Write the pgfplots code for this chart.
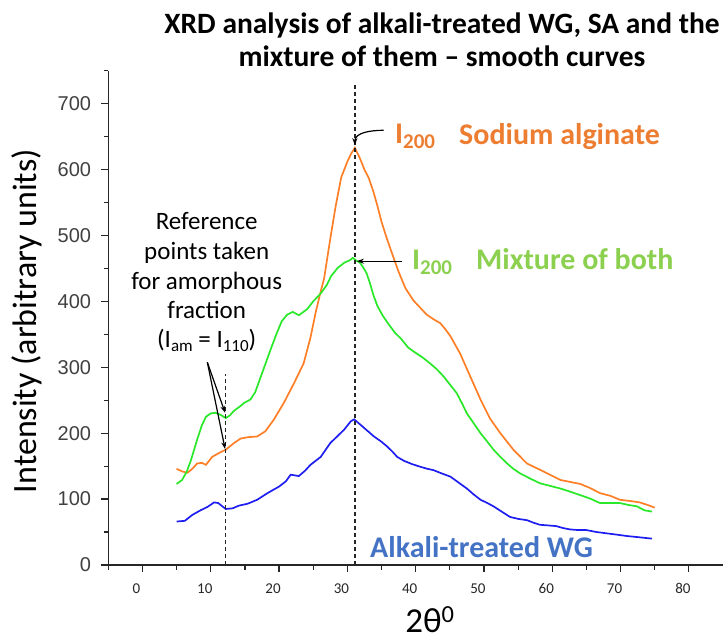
\documentclass[border=0pt]{standalone}
\usepackage{pgfplots}
\pgfplotsset{compat=1.18}
\usepackage{fontspec}
\setmainfont{Carlito}
\newfontfamily\arialf{Liberation Sans}
\definecolor{corange}{RGB}{255,127,39}
\definecolor{cgreen}{RGB}{40,232,40}
\definecolor{cblue}{RGB}{30,30,240}
\definecolor{torange}{RGB}{237,125,49}
\definecolor{tgreen}{RGB}{140,208,80}
\definecolor{tblue}{RGB}{68,114,196}
\usetikzlibrary{arrows.meta}
\begin{document}
\begin{tikzpicture}
\path[use as bounding box] (-108.3pt,-78pt) rectangle (616.7pt,565pt);
\begin{axis}[
  at={(0pt,0pt)}, anchor=south west,
  scale only axis, width=614.7pt, height=494.3pt,
  xmin=-5, xmax=85, ymin=0, ymax=750,
  axis x line*=bottom, axis y line*=left,
  axis line style={line width=1.2pt, black!85, -},
  tick align=outside,
  xtick={0,10,...,80}, minor xtick={-5,5,...,75},
  ytick={0,100,...,700}, minor ytick={50,150,...,750},
  major tick length=7pt, minor tick length=4.5pt,
  every tick/.style={line width=1.2pt, black!85},
  /pgf/number format/assume math mode=true,
  xticklabel style={font=\fontsize{15}{16}\selectfont, xshift=-6pt, yshift=-8pt, color=black!85},
  yticklabel style={font=\arialf\fontsize{20}{22}\selectfont, color=black!75, anchor=east, inner sep=0pt, xshift=-10pt},
  clip=false,
]
\addplot[corange, line width=1.7pt] coordinates {
(5,146) (5.8,142) (6.6,140) (7.3,146) (8,154) (8.7,155) (9.3,152) (10.2,164)
(11.4,171) (12.2,175) (13.4,185) (14.4,192) (15.5,194) (16.8,195) (18,203)
(19.2,220) (20.7,246) (22.2,276) (23.6,306) (24.6,345) (25.4,385) (26.1,415)
(26.6,435) (27.5,495) (28.3,545) (29.1,588) (30,612) (30.6,625) (31.1,633)
(31.8,618) (32.5,600) (33.1,588) (33.8,567) (34.4,545) (35,521) (35.7,498)
(36.5,474) (37.5,445) (38.5,420) (39.7,401) (40.7,390) (41.6,380) (42.6,373)
(43.6,367) (44.4,357) (45.1,347) (46.5,321) (48,286) (49.5,251) (50.9,222)
(52.4,200) (54.3,175) (56.3,154) (58.7,142) (61.2,129) (64.1,123) (65.5,117)
(67,109) (68.5,105) (69.9,99) (71.5,97) (72.8,95) (74,91) (75,87)
};
\addplot[cgreen, line width=1.7pt] coordinates {
(5,123) (5.8,129) (6.5,142) (7.1,159) (8,190) (8.7,212) (9.3,225) (10,230)
(10.7,231) (11.4,228) (12.2,223) (12.8,227) (13.4,234) (14.2,240) (14.9,246)
(15.8,251) (16.5,262) (17.3,285) (18,305) (18.8,328) (19.6,350) (20.4,370)
(21.2,380) (22,384) (22.9,379) (24.1,388) (25,400) (26.1,412) (27,425)
(27.6,438) (28.6,451) (29.6,459) (30.3,462) (30.8,466) (31.3,462) (31.8,459)
(32.3,452) (32.8,443) (33.3,428) (33.8,410) (34.4,393) (35.2,378) (36,366)
(37,352) (37.8,344) (38.9,330) (39.7,324) (41,315) (42.1,306) (43.1,297)
(44.1,286) (45,274) (46,261) (46.8,245) (47.5,230) (48.5,215) (49.5,200)
(50.5,187) (51.4,175) (52.4,164) (53.4,154) (54.3,146) (55.3,139) (56.8,131)
(58.2,124) (59.7,120) (61.2,116) (62.7,111) (64.1,106) (65.5,101) (67,94)
(68.5,94) (69.9,94) (71.2,91) (72.4,89) (73.5,83) (74.6,81)
};
\addplot[cblue, line width=1.7pt] coordinates {
(5,66) (6.2,67) (7.3,76) (8.5,83) (9.5,88) (10.5,95) (11.1,94) (11.7,89)
(12.2,85) (13.2,86) (14.1,90) (15.4,93) (16.8,99) (18.3,109) (20,119) (21,127)
(21.7,137) (22.9,135) (23.8,143) (24.6,152) (26.1,164) (27.5,185) (28.5,195)
(29.5,205) (30.5,218) (31,221) (31.9,213) (32.9,204) (33.9,195) (35,187)
(35.8,180) (36.6,172) (37.3,164) (38.3,158) (39.5,153) (40.7,149) (41.7,146)
(42.6,144) (43.8,139) (45.1,134) (46.3,125) (47.5,116) (48.5,107) (49.5,99)
(50.5,94) (51.4,89) (52.6,81) (53.8,73) (55,70) (56.3,68) (57.3,64) (58.2,61)
(59.5,60) (60.6,59) (61.6,56) (62.6,54) (63.8,53) (65,53) (66.5,50) (68,48)
(69.5,46) (70.9,44) (72.8,42) (74.6,40)
};
% dashed reference lines
\draw[black!85, line width=1.3pt, dash pattern=on 4pt off 3pt] (axis cs:12.2,0) -- (axis cs:12.2,290);
\draw[black!85, line width=1.3pt, dash pattern=on 4pt off 3pt] (axis cs:31.1,0) -- (axis cs:31.1,728);
% arrows
\draw[black, line width=1.2pt, -{Stealth[length=7pt,width=5pt]}] (axis cs:35.3,659.6) to[out=180,in=90] (axis cs:31.1,637);
\draw[black, line width=1.2pt, -{Stealth[length=7pt,width=5pt]}] (axis cs:38.0,461) -- (axis cs:31.4,461);
\draw[black, line width=1.2pt, -{Stealth[length=7pt,width=5pt]}] (axis cs:9.5,307.6) -- (axis cs:12.1,231);
\draw[black, line width=1.2pt, -{Stealth[length=7pt,width=5pt]}] (axis cs:9.5,307.6) -- (axis cs:12.1,176);
\end{axis}
% title
\node[anchor=base, font=\bfseries\fontsize{29.5}{34}\selectfont] at (333.7pt,531.7pt) {XRD analysis of alkali-treated WG, SA and the};
\node[anchor=base, font=\bfseries\fontsize{29.5}{34}\selectfont] at (333.7pt,498.3pt) {mixture of them -- smooth curves};
% axis labels
\node[anchor=base, rotate=90, font=\fontsize{34}{40}\selectfont] at (-71.3pt,244pt) {Intensity (arbitrary units)};
\node[anchor=base, font=\fontsize{35}{40}\selectfont] at (321.7pt,-67pt) {2θ\textsuperscript{0}};
% annotations
\node[anchor=base west, inner sep=0pt, text=torange, font=\bfseries\fontsize{30}{36}\selectfont] at (286.7pt,421pt) {I\raisebox{-5pt}{\fontsize{21}{21}\selectfont 200}};
\node[anchor=base west, inner sep=0pt, text=torange, font=\bfseries\fontsize{30}{36}\selectfont] at (350.7pt,420pt) {Sodium alginate};
\node[anchor=base west, inner sep=0pt, text=tgreen, font=\bfseries\fontsize{30}{36}\selectfont] at (303.7pt,295.5pt) {I\raisebox{-5pt}{\fontsize{21}{21}\selectfont 200}};
\node[anchor=base west, inner sep=0pt, text=tgreen, font=\bfseries\fontsize{30}{36}\selectfont] at (367.7pt,295pt) {Mixture of both};
\node[anchor=base west, inner sep=0pt, text=tblue, font=\bfseries\fontsize{30}{36}\selectfont] at (261.7pt,8pt) {Alkali-treated WG};
\begin{scope}[every node/.style={anchor=base, font=\fontsize{25}{30}\selectfont}]
\node at (98.4pt,335pt) {Reference};
\node at (98.4pt,305pt) {points taken};
\node at (98.4pt,275pt) {for amorphous};
\node at (98.4pt,246.7pt) {fraction};
\node at (98.4pt,217pt) {(I\raisebox{-4pt}{\fontsize{17}{17}\selectfont am} = I\raisebox{-4pt}{\fontsize{17}{17}\selectfont 110})};
\end{scope}
\end{tikzpicture}
\end{document}
